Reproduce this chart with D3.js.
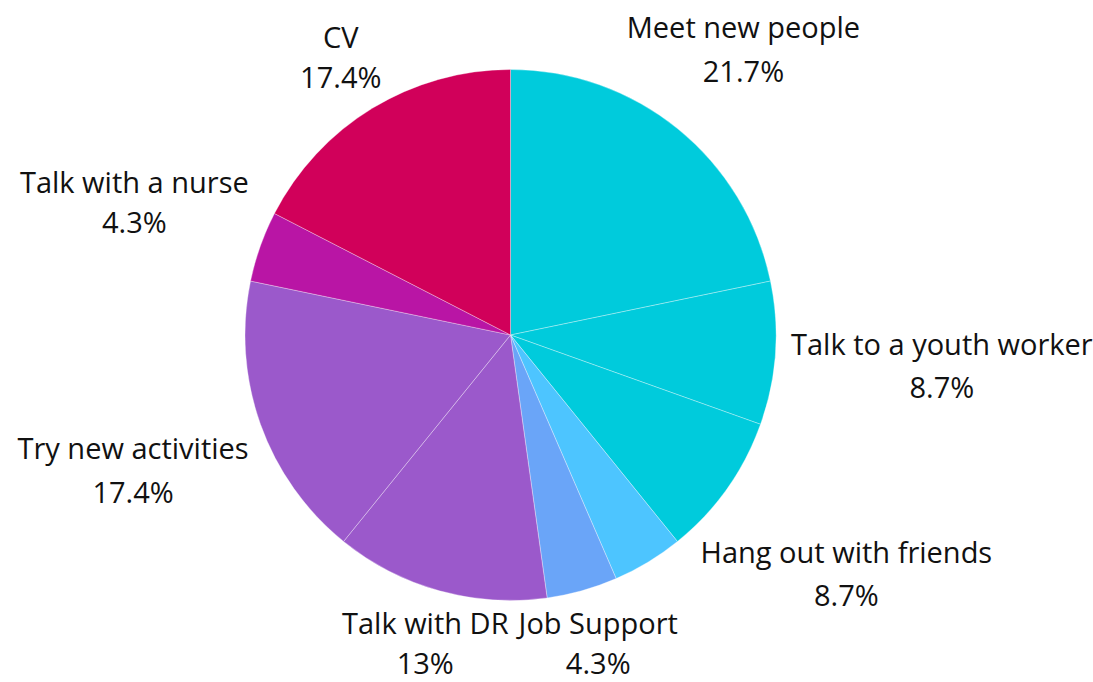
<!DOCTYPE html>
<html>
<head>
<meta charset="utf-8">
<script src="https://cdn.jsdelivr.net/npm/d3@7"></script>
<style>
  html, body { margin: 0; padding: 0; background: #ffffff; }
  svg { display: block; }
  text { font-family: "Open Sans", "Lato", sans-serif; fill: #111111; }
</style>
</head>
<body>
<svg id="chart" width="1093" height="682"></svg>
<script>
// Slice names, read clockwise from twelve o'clock (one small slice has no label)
const categories = [
  "Meet new people", "Talk to a youth worker", "Hang out with friends", "",
  "Job Support", "Talk with DR", "Try new activities", "Talk with a nurse", "CV"
];
// Share of answers, in percent
const values = [21.7, 8.7, 8.7, 4.3, 4.3, 13, 17.4, 4.3, 17.4];
// Percentage text shown under each name
const valueLabels = ["21.7%", "8.7%", "8.7%", "4.3%", "4.3%", "13%", "17.4%", "4.3%", "17.4%"];
// Slice fills
const colors = ["#00CBDC", "#00CBDC", "#00CBDC", "#4DC5FF", "#6AA5F8", "#9B59CB", "#9B59CB", "#B915A5", "#D1005A"];
// Vertical distance between the name line and the percentage line
const pctLineGap = [44, 43, 43, 43, 40, 40, 44, 40, 40];

const width = 1093, height = 682;
const cx = 510.5, cy = 335, radius = 265.5;
const labelPad = 8;      // clearance between pie edge and label block
const labelPadX = 7;     // extra side padding of each label block
const labelTrimY = 6;    // font ascent/descent space ignored above and below
const fontSize = 29;

const svg = d3.select("#chart");
const g = svg.append("g").attr("transform", `translate(${cx},${cy})`);

const pie = d3.pie().sort(null).value(d => d.value);
const arc = d3.arc().innerRadius(0).outerRadius(radius);

const data = values.map((v, i) => ({
  name: categories[i], value: v, label: valueLabels[i], color: colors[i], gap: pctLineGap[i]
}));
const arcs = pie(data);

g.selectAll("path.slice")
  .data(arcs)
  .join("path")
  .attr("class", "slice")
  .attr("d", arc)
  .attr("fill", d => d.data.color)
  .attr("stroke", "rgba(255,255,255,0.55)")
  .attr("stroke-width", 0.6);

// Distance from the pie centre to the nearest point of a box centred at (x, y)
function boxDistance(x, y, w, h) {
  const dx = Math.max(Math.abs(x) - w / 2, 0);
  const dy = Math.max(Math.abs(y) - h / 2, 0);
  return Math.hypot(dx, dy);
}

const labels = g.selectAll("text.label")
  .data(arcs.filter(d => d.data.name !== ""))
  .join("text")
  .attr("class", "label")
  .attr("text-anchor", "middle")
  .attr("font-size", fontSize);

labels.append("tspan")
  .attr("x", 0)
  .attr("y", 0)
  .text(d => d.data.name);

labels.append("tspan")
  .attr("x", 0)
  .attr("y", d => d.data.gap)
  .text(d => d.data.label);

// Push each label out along its slice's mid-angle until it clears the pie
labels.each(function(d) {
  const bb = this.getBBox();
  const w = bb.width + 2 * labelPadX, h = bb.height - 2 * labelTrimY;
  const mid = (d.startAngle + d.endAngle) / 2;
  const ux = Math.sin(mid), uy = -Math.cos(mid);
  let lo = 0, hi = 1000;
  for (let k = 0; k < 60; k++) {
    const m = (lo + hi) / 2;
    if (boxDistance(ux * m, uy * m, w, h) < radius + labelPad) lo = m; else hi = m;
  }
  const ox = ux * hi - (bb.x + bb.width / 2);
  const oy = uy * hi - (bb.y + bb.height / 2);
  d3.select(this).attr("transform", `translate(${ox},${oy})`);
});
</script>
</body>
</html>
